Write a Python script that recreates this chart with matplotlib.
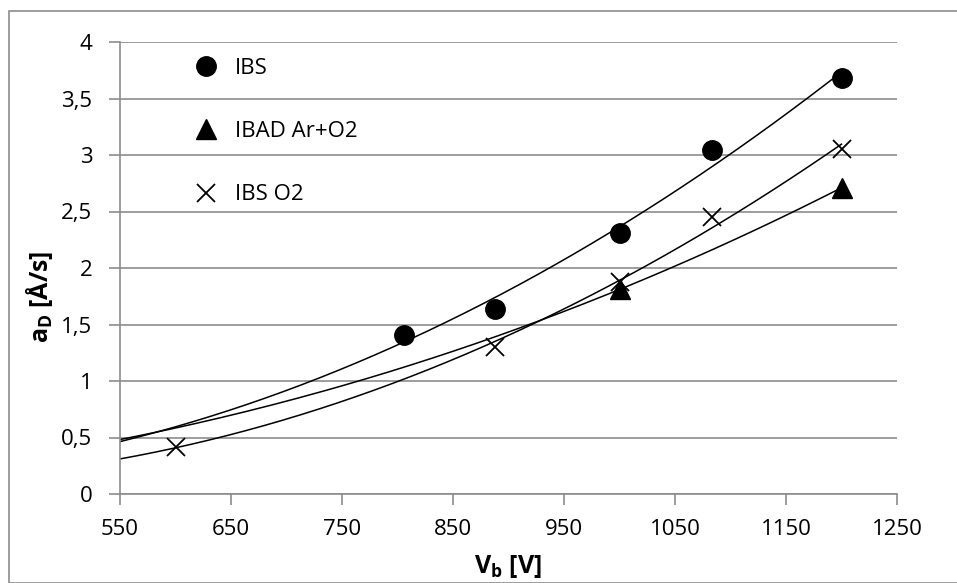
import numpy as np
import matplotlib

matplotlib.use("Agg")
import matplotlib.pyplot as plt
from matplotlib.patches import Rectangle
from matplotlib.ticker import FuncFormatter

plt.rcParams["font.family"] = ["Open Sans", "DejaVu Sans"]
plt.rcParams["mathtext.fontset"] = "custom"
plt.rcParams["mathtext.rm"] = "Open Sans"
plt.rcParams["mathtext.bf"] = "Open Sans:bold"

# data
ibs_v = [806, 888, 1000, 1083, 1200]
ibs_a = [1.41, 1.64, 2.31, 3.04, 3.68]
ibad_v = [1000, 1200]
ibad_a = [1.81, 2.71]
ibso2_v = [600, 888, 1000, 1083, 1200]
ibso2_a = [0.42, 1.30, 1.88, 2.45, 3.05]

x_ticks = [550, 650, 750, 850, 950, 1050, 1150, 1250]
y_ticks = [0, 0.5, 1, 1.5, 2, 2.5, 3, 3.5, 4]

GRID = "#8c8c8c"

fig = plt.figure(figsize=(9.57, 5.83), dpi=100)
ax = fig.add_axes([120 / 957, 1 - 494 / 583, 777 / 957, 452 / 583])

# outer chart border
fig.patches.append(
    Rectangle((9 / 957, 0), 1, 1 - 11 / 583, transform=fig.transFigure,
              fill=False, edgecolor=GRID, linewidth=1.2)
)

# trendlines (fitted like excel does)
xs = np.linspace(550, 1200, 200)
p_ibs = np.polyfit(ibs_v, ibs_a, 2)
p_o2 = np.polyfit(ibso2_v, ibso2_a, 2)
p_ibad = np.polyfit(np.log(ibad_v), np.log(ibad_a), 1)
ax.plot(xs, np.polyval(p_ibs, xs), color="black", lw=1.1)
ax.plot(xs, np.polyval(p_o2, xs), color="black", lw=1.1)
ax.plot(xs, np.exp(np.polyval(p_ibad, np.log(xs))), color="black", lw=1.1)

ax.plot(ibs_v, ibs_a, "o", color="black", ms=14, label="IBS")
ax.plot(ibad_v, ibad_a, "^", color="black", ms=14, label="IBAD Ar+O2")
ax.plot(ibso2_v, ibso2_a, "x", color="black", ms=13, mew=1.3, label="IBS O2")

ax.set_xlim(550, 1250)
ax.set_ylim(0, 4)
ax.set_xticks(x_ticks)
ax.set_yticks(y_ticks)
ax.yaxis.set_major_formatter(
    FuncFormatter(lambda v, p: ("%g" % v).replace(".", ","))
)
ax.grid(axis="y", color=GRID, lw=1.2)
ax.set_axisbelow(True)
for s in ["top", "right"]:
    ax.spines[s].set_visible(False)
for s in ["left", "bottom"]:
    ax.spines[s].set_color(GRID)
    ax.spines[s].set_linewidth(1.2)
ax.tick_params(axis="both", colors=GRID, length=8, width=1.2,
               labelsize=16, labelcolor="black")
ax.tick_params(axis="x", pad=10)
ax.tick_params(axis="y", pad=12)

fig.text(508 / 957, 1 - 567 / 583, r"V$_\mathbf{b}$ [V]", fontsize=18,
         fontweight="bold", ha="center", va="center")
fig.text(40 / 957, 1 - 297 / 583, r"a$_\mathbf{D}$ [Å/s]", fontsize=18,
         fontweight="bold", ha="center", va="center", rotation=90)

ax.legend(loc="upper left", bbox_to_anchor=(195 / 957, 1 - 58 / 583),
          bbox_transform=fig.transFigure, frameon=False, fontsize=16,
          handlelength=1.0, handletextpad=0.8, labelspacing=1.9,
          borderpad=0, borderaxespad=0)

fig.savefig("out.png", dpi=100, facecolor="white")
